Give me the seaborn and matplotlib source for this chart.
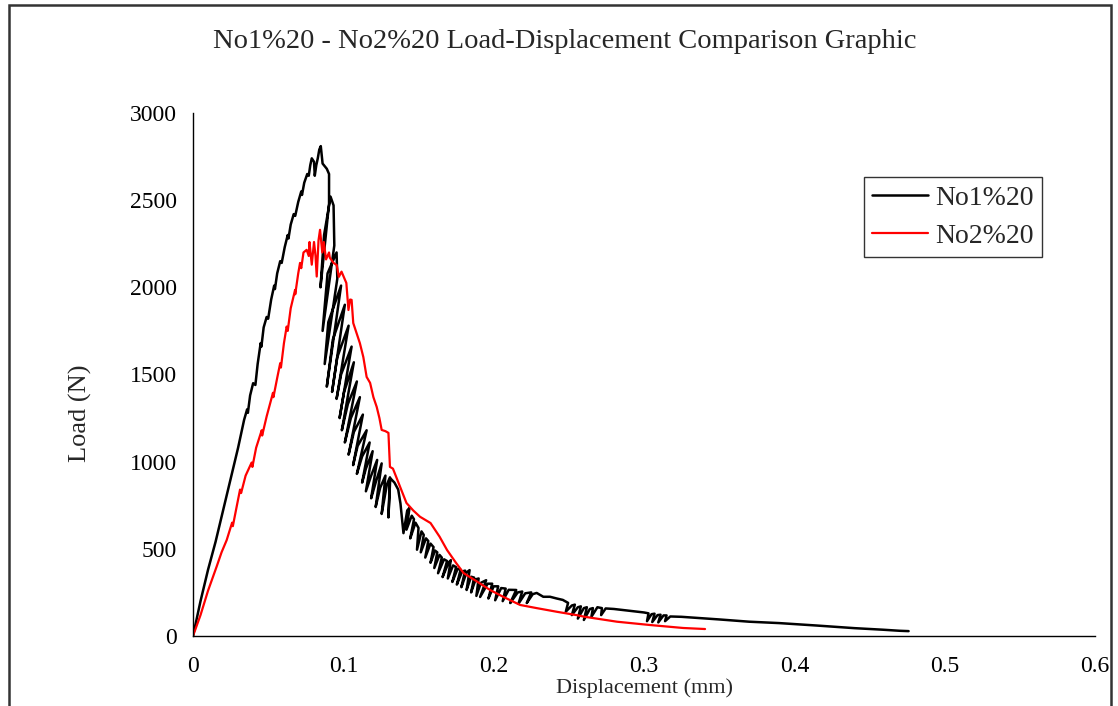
import matplotlib
matplotlib.use("Agg")
import matplotlib.pyplot as plt
import seaborn as sns
import pandas as pd
from matplotlib.patches import Rectangle

# ---- data ----
no1_disp = [
    0.0000, 0.0050, 0.0100, 0.0150, 0.0200, 0.0250, 0.0300, 0.0340, 0.0360, 0.0365,
    0.0380, 0.0400, 0.0415, 0.0430, 0.0450, 0.0455, 0.0470, 0.0490, 0.0500, 0.0520,
    0.0540, 0.0545, 0.0560, 0.0580, 0.0590, 0.0610, 0.0630, 0.0635, 0.0650, 0.0670,
    0.0680, 0.0700, 0.0720, 0.0725, 0.0740, 0.0760, 0.0770, 0.0780, 0.0790, 0.0805,
    0.0810, 0.0820, 0.0830, 0.0840, 0.0850,
    0.0862, 0.0890, 0.0905, 0.0905, 0.0848, 0.0872, 0.0915, 0.0935, 0.0940, 0.0862,
    0.0895, 0.0955, 0.0960, 0.0876, 0.0900, 0.0985, 0.0890, 0.0930, 0.1010, 0.0925,
    0.0960, 0.1035, 0.0955, 0.0985, 0.1055, 0.0975, 0.1005, 0.1070, 0.0990, 0.1030,
    0.1090, 0.1010, 0.1050, 0.1110, 0.1035, 0.1070, 0.1130, 0.1065, 0.1095, 0.1155,
    0.1090, 0.1125, 0.1175, 0.1125, 0.1150, 0.1195, 0.1150, 0.1185, 0.1225, 0.1185,
    0.1215, 0.1255, 0.1215, 0.1245, 0.1280, 0.1255, 0.1290, 0.1310, 0.1300, 0.1312,
    0.1340, 0.1365, 0.1380,
    0.1400, 0.1425, 0.1440, 0.1420, 0.1455, 0.1470, 0.1445, 0.1480, 0.1500,
    0.1490, 0.1520, 0.1535, 0.1515, 0.1550, 0.1565, 0.1545, 0.1580, 0.1600,
    0.1580, 0.1610, 0.1625, 0.1605, 0.1640, 0.1655, 0.1630, 0.1670, 0.1690,
    0.1660, 0.1700, 0.1715, 0.1695, 0.1730, 0.1750, 0.1725, 0.1760, 0.1780,
    0.1755, 0.1790, 0.1810, 0.1785, 0.1820, 0.1840, 0.1820, 0.1850, 0.1870,
    0.1850, 0.1880, 0.1900, 0.1885, 0.1915, 0.1950, 0.1910, 0.1960, 0.1990,
    0.1965, 0.2000, 0.2030, 0.2010, 0.2050, 0.2080, 0.2060, 0.2100, 0.2150,
    0.2110, 0.2160, 0.2190, 0.2165, 0.2210, 0.2250, 0.2220, 0.2260, 0.2286,
    0.2330, 0.2375, 0.2420, 0.2460, 0.2495,
    0.2480, 0.2520, 0.2540, 0.2520, 0.2560, 0.2580, 0.2560, 0.2600, 0.2620,
    0.2600, 0.2640, 0.2660, 0.2650, 0.2690, 0.2720, 0.2715, 0.2745,
    0.2800, 0.2900, 0.3000, 0.3030, 0.3020, 0.3050, 0.3070, 0.3055, 0.3090,
    0.3110, 0.3095, 0.3130, 0.3150, 0.3140, 0.3175,
    0.3250, 0.3370, 0.3500, 0.3700, 0.3900, 0.4150, 0.4400, 0.4590, 0.4700, 0.4760,
]
no1_load = [
    0, 200, 380, 540, 720, 900, 1080, 1240, 1300, 1280,
    1380, 1450, 1440, 1560, 1680, 1660, 1770, 1830, 1820, 1930,
    2010, 1990, 2080, 2150, 2140, 2230, 2300, 2280, 2360, 2420,
    2410, 2490, 2550, 2530, 2600, 2650, 2640, 2700, 2740, 2720,
    2640, 2700, 2740, 2790, 2810,
    2710, 2680, 2650, 2480, 2000, 2300, 2520, 2470, 2240, 1750,
    2080, 2200, 2050, 1560, 1800, 2010, 1430, 1700, 1900, 1400,
    1600, 1780, 1360, 1500, 1660, 1250, 1400, 1570, 1180, 1330,
    1460, 1110, 1250, 1370, 1040, 1170, 1270, 980, 1090, 1180,
    930, 1030, 1110, 880, 960, 1060, 830, 920, 1010, 790,
    880, 990, 740, 850, 920, 700, 870, 910, 680, 905,
    880, 840, 760,
    590, 720, 735, 610, 690, 670, 560, 650, 620,
    495, 600, 580, 480, 560, 545, 450, 530, 510,
    420, 490, 480, 390, 465, 450, 360, 440, 430,
    338, 420, 435, 330, 405, 395, 310, 385, 380,
    295, 370, 375, 280, 365, 378, 264, 340, 335,
    250, 325, 330, 230, 305, 320, 224, 300, 300,
    215, 285, 285, 205, 275, 272, 200, 265, 264,
    189, 250, 255, 185, 245, 250, 189, 240, 247,
    225, 225, 215, 207, 190,
    140, 175, 180, 120, 165, 170, 100, 160, 165,
    92, 155, 160, 110, 165, 160, 120, 158,
    155, 145, 135, 130, 85, 125, 128, 80, 120,
    122, 78, 118, 118, 85, 112,
    110, 103, 95, 82, 74, 60, 45, 36, 30, 28,
]

no2_disp = [
    0.0000, 0.0050, 0.0100, 0.0158, 0.0190, 0.0224, 0.0260, 0.0265, 0.0290, 0.0313,
    0.0320, 0.0350, 0.0390, 0.0395, 0.0420, 0.0457, 0.0460, 0.0490, 0.0532, 0.0535,
    0.0560, 0.0580, 0.0585, 0.0605, 0.0623, 0.0630, 0.0650, 0.0679, 0.0680, 0.0700,
    0.0712, 0.0720, 0.0735, 0.0756, 0.0770, 0.0775, 0.0790, 0.0805, 0.0815, 0.0823,
    0.0835, 0.0845, 0.0860, 0.0870, 0.0885, 0.0905, 0.0910, 0.0935, 0.0956, 0.0970,
    0.0988, 0.1020, 0.1034, 0.1045, 0.1055, 0.1066, 0.1110, 0.1133, 0.1155, 0.1178,
    0.1200, 0.1222, 0.1240, 0.1255, 0.1280, 0.1300, 0.1310, 0.1330, 0.1377, 0.1420,
    0.1465, 0.1510, 0.1580, 0.1640, 0.1690, 0.1750, 0.1800, 0.1890, 0.1976, 0.2063,
    0.2176, 0.2286, 0.2420, 0.2550, 0.2600, 0.2820, 0.3040, 0.3260, 0.3406,
]
no2_load = [
    0, 120, 260, 400, 480, 550, 650, 630, 740, 840,
    820, 920, 995, 970, 1080, 1180, 1150, 1260, 1395, 1370,
    1480, 1565, 1540, 1680, 1775, 1750, 1880, 1985, 1960, 2080,
    2140, 2110, 2200, 2215, 2180, 2260, 2130, 2260, 2180, 2062,
    2270, 2330, 2200, 2260, 2160, 2200, 2170, 2140, 2128, 2060,
    2090, 2025, 1870, 1930, 1928, 1795, 1680, 1600, 1486, 1452,
    1370, 1314, 1250, 1182, 1175, 1165, 970, 960, 857, 763,
    720, 684, 648, 570, 493, 419, 361, 312, 264, 225,
    178, 160, 139, 120, 111, 82, 63, 46, 40,
]

series_names = ["No1%20", "No2%20"]
title_text = "No1%20 - No2%20 Load-Displacement Comparison Graphic"
x_ticks = [0, 0.1, 0.2, 0.3, 0.4, 0.5, 0.6]
x_tick_labels = ["0", "0.1", "0.2", "0.3", "0.4", "0.5", "0.6"]
y_ticks = [0, 500, 1000, 1500, 2000, 2500, 3000]

df1 = pd.DataFrame({"disp": no1_disp, "load": no1_load, "series": series_names[0]})
df2 = pd.DataFrame({"disp": no2_disp, "load": no2_load, "series": series_names[1]})

sns.set_theme(style="white")
plt.rcParams["font.family"] = ["Liberation Serif", "DejaVu Serif"]

fig = plt.figure(figsize=(11.18, 7.06), dpi=100)
ax = fig.add_axes([193 / 1118, 1 - 636 / 706, (1095 - 193) / 1118, (636 - 113) / 706])

sns.lineplot(data=df1, x="disp", y="load", sort=False, estimator=None,
             color="black", linewidth=1.8, ax=ax, label=series_names[0])
sns.lineplot(data=df2, x="disp", y="load", sort=False, estimator=None,
             color="#ff0000", linewidth=1.6, ax=ax, label=series_names[1])

ax.set_xlim(0, 0.6)
ax.set_ylim(0, 3000)
ax.set_xticks(x_ticks)
ax.set_xticklabels(x_tick_labels)
ax.set_yticks(y_ticks)
for s in ["top", "right"]:
    ax.spines[s].set_visible(False)
for s in ["left", "bottom"]:
    ax.spines[s].set_color("black")
    ax.spines[s].set_linewidth(1.0)
ax.tick_params(axis="both", which="major", direction="out", length=4.5, width=1,
               color="black", labelsize=17, labelcolor="black")
ax.tick_params(axis="x", pad=10)
ax.tick_params(axis="y", pad=7)

ax.set_xlabel("Displacement (mm)", fontsize=16, va="center")
ax.xaxis.set_label_coords(0.5, -(688 - 636) / 523)
ax.set_ylabel("Load (N)", fontsize=19, va="center")
ax.yaxis.set_label_coords(-(193 - 80) / 902, (636 - 413) / 523)

fig.text(0.505, 1 - 42 / 706, title_text, ha="center", va="center", fontsize=20.5)

leg = ax.legend(loc="upper left", bbox_to_anchor=((864 - 193) / 902, (636 - 177) / 523),
                frameon=True, fancybox=False, fontsize=20, handlelength=2.0,
                borderpad=0.3, labelspacing=0.45, handletextpad=0.25, borderaxespad=0)
leg.get_frame().set_edgecolor("black")
leg.get_frame().set_linewidth(1.0)

fig.patches.append(Rectangle((9 / 1118, -0.02), (1111 - 9) / 1118, 1 - 5 / 706 + 0.02,
                             transform=fig.transFigure, fill=False,
                             edgecolor="#333333", linewidth=1.8))

fig.savefig("out.png", dpi=100)
